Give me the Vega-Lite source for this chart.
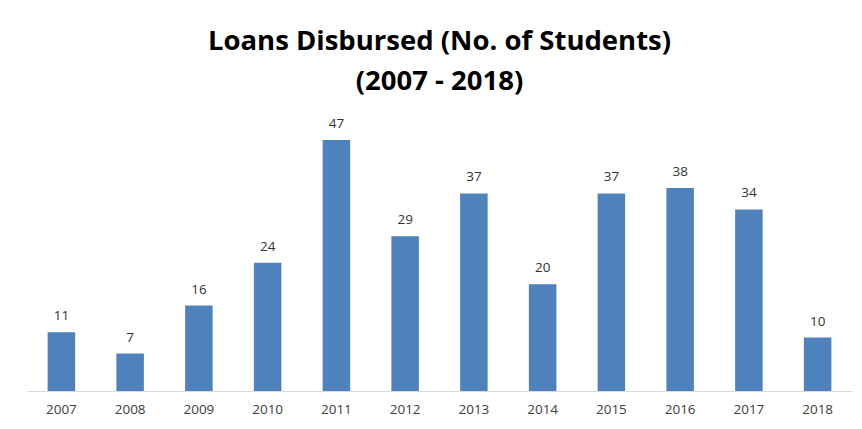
{
  "$schema": "https://vega.github.io/schema/vega-lite/v6.json",
  "autosize": {"type": "none"},
  "width": 825,
  "height": 267,
  "padding": {"left": 27, "top": 124, "right": 10, "bottom": 38},
  "background": "white",
  "title": {
    "text": ["Loans Disbursed (No. of Students)", "(2007 - 2018)"],
    "font": "Open Sans",
    "fontSize": 27.5,
    "fontWeight": "bold",
    "color": "#000000",
    "lineHeight": 40,
    "anchor": "middle",
    "offset": 22
  },
  "data": {
    "values": [
      {"year": "2007", "students": 11},
      {"year": "2008", "students": 7},
      {"year": "2009", "students": 16},
      {"year": "2010", "students": 24},
      {"year": "2011", "students": 47},
      {"year": "2012", "students": 29},
      {"year": "2013", "students": 37},
      {"year": "2014", "students": 20},
      {"year": "2015", "students": 37},
      {"year": "2016", "students": 38},
      {"year": "2017", "students": 34},
      {"year": "2018", "students": 10}
    ]
  },
  "encoding": {
    "x": {
      "field": "year",
      "type": "ordinal",
      "scale": {"paddingInner": 0.6, "paddingOuter": 0.3},
      "axis": {
        "title": null,
        "labelAngle": 0,
        "ticks": false,
        "domainColor": "#d9d9d9",
        "labelFont": "Open Sans",
        "labelFontSize": 13.5,
        "labelColor": "#404040",
        "labelPadding": 11
      }
    },
    "y": {
      "field": "students",
      "type": "quantitative",
      "scale": {"domain": [0, 50]},
      "axis": null
    }
  },
  "layer": [
    {"mark": {"type": "bar", "color": "#4f81bd"}},
    {
      "mark": {"type": "text", "baseline": "bottom", "dy": -9, "font": "Open Sans", "fontSize": 13.5, "color": "#333333"},
      "encoding": {"text": {"field": "students", "type": "quantitative"}}
    }
  ],
  "config": {"view": {"stroke": null}}
}
